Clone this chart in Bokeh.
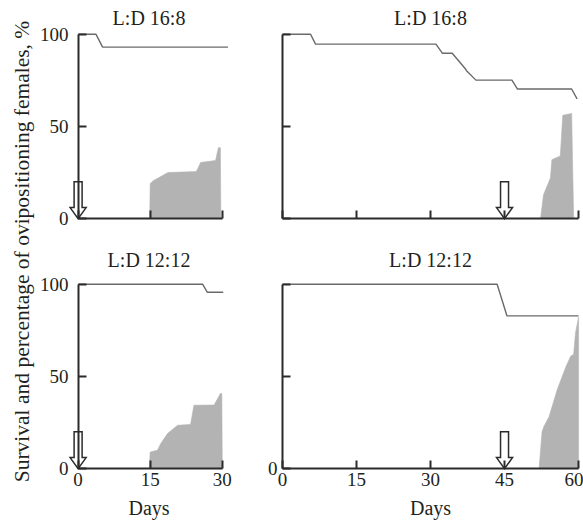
import math
from bokeh.plotting import figure
from bokeh.layouts import row, column
from bokeh.models import Range1d, FixedTicker, Label, LinearAxis
from bokeh.embed import file_html
from bokeh.resources import INLINE

# ---------------- data ----------------
y_label = "Survival and percentage of ovipositioning females, %"
x_label = "Days"
titles = ["L:D 16:8", "L:D 16:8", "L:D 12:12", "L:D 12:12"]

# top-left: L:D 16:8, 30 days
tl_surv_days = [0, 3.7, 5.1, 31.2]
tl_surv_pct = [100, 100, 93, 93]
tl_ovi_days = [14.9, 15.0, 15.6, 18.7, 24.6, 25.5, 28.6, 29.2, 29.6, 29.7]
tl_ovi_pct = [0, 19, 20.5, 25, 25.5, 30.5, 31.5, 38.5, 38.5, 0]
tl_arrow_day = 0

# top-right: L:D 16:8, 60 days
tr_surv_days = [0, 5.7, 6.7, 31.1, 32.4, 34.4, 37.1, 37.3, 39.2, 46.5, 47.6, 58.6, 59.7]
tr_surv_pct = [100, 100, 94.6, 94.6, 89.7, 89.7, 81.1, 80.2, 75.1, 75.1, 70.3, 70.3, 64.9]
tr_ovi_days = [52.3, 52.9, 54.3, 54.6, 56.3, 56.8, 58.6, 59.0]
tr_ovi_pct = [0, 13, 22, 32, 34, 56, 57, 0]
tr_arrow_day = 45

# bottom-left: L:D 12:12, 30 days
bl_surv_days = [0, 25.9, 26.9, 30.2]
bl_surv_pct = [100, 100, 95.6, 95.6]
bl_ovi_days = [14.8, 15.0, 16.5, 17.2, 18.6, 20.7, 23.4, 24.1, 28.3, 29.6, 29.9, 30.0]
bl_ovi_pct = [0, 9, 10, 13.6, 19, 23.5, 24, 34.4, 34.5, 40.7, 40.7, 0]
bl_arrow_day = 0

# bottom-right: L:D 12:12, 60 days
br_surv_days = [0, 43.5, 45.5, 60]
br_surv_pct = [100, 100, 82.8, 82.8]
br_ovi_days = [52.0, 52.6, 53.0, 54.0, 55.7, 57.4, 58.4, 59.0, 59.4, 60.0, 60.0]
br_ovi_pct = [0, 20, 23, 28, 43, 55, 61, 62, 74, 82, 0]
br_arrow_day = 45

x_ticks_30 = [0, 15, 30]
x_ticks_60 = [0, 15, 30, 45, 60]
y_ticks = [0, 50, 100]

# ---------------- style ----------------
FONT = "Liberation Serif"
TXT = "#231f20"
AXIS = "#2b2b2b"
LINE = "#6a6a6a"
FILL = "#b3b3b3"
FRAME_H = 190
Y_MIN, Y_MAX = -1, 102


def panel(width, height, left, right, top, bottom, xrng, xmax, surv_d, surv_p,
          ovi_d, ovi_p, arrow_day, title, title_standoff, xticks,
          show_xlabels, ylabel_keep, ylab_standoff):
    x0, x1 = xrng
    p = figure(width=width, height=height, x_range=Range1d(x0, x1),
               y_range=Range1d(Y_MIN, Y_MAX), toolbar_location=None,
               output_backend="svg", min_border_left=left,
               min_border_right=right, min_border_top=top,
               min_border_bottom=bottom)
    p.outline_line_color = None
    p.grid.visible = False
    p.background_fill_color = "white"
    p.border_fill_color = "white"

    p.title.text = title
    p.title.align = "center"
    p.title.text_font = FONT
    p.title.text_font_size = "20px"
    p.title.text_font_style = "normal"
    p.title.text_color = TXT
    p.title.standoff = title_standoff

    p.patch(ovi_d, ovi_p, fill_color=FILL, line_color=FILL, line_width=0.6)
    p.line(surv_d, surv_p, line_color=LINE, line_width=1.4)

    frame_w = width - left - right
    sx = frame_w / (x1 - x0)
    sh = 4.0 / sx
    hh = 8.0 / sx
    shaft_top = 20.0
    head_top = 6.0
    d = arrow_day
    ax = [d - sh, d + sh, d + sh, d + hh, d, d - hh, d - sh]
    ay = [shaft_top, shaft_top, head_top, head_top, 0, head_top, head_top]
    p.patch(ax, ay, fill_color="white", line_color=AXIS, line_width=1.5,
            line_join="miter")

    # label-only axes at the frame edges
    lx = p.xaxis[0]
    ly = p.yaxis[0]
    for a in (lx, ly):
        a.axis_line_color = None
        a.major_tick_line_color = None
        a.minor_tick_line_color = None
        a.major_tick_in = 0
        a.major_tick_out = 0
        a.major_label_text_font = FONT
        a.major_label_text_font_size = "19px"
        a.major_label_text_color = TXT
    if show_xlabels:
        lx.ticker = FixedTicker(ticks=xticks)
        lx.major_label_standoff = 2
        lx.axis_label = x_label
        lx.axis_label_text_font = FONT
        lx.axis_label_text_font_size = "20px"
        lx.axis_label_text_font_style = "normal"
        lx.axis_label_text_color = TXT
        lx.axis_label_standoff = 8
    else:
        lx.visible = False
    if ylabel_keep:
        ly.ticker = FixedTicker(ticks=ylabel_keep)
        ly.major_label_standoff = ylab_standoff
    else:
        ly.visible = False

    # axis lines and inward ticks placed at data zero
    xa = LinearAxis(fixed_location=0, bounds=(0, xmax),
                    ticker=FixedTicker(ticks=xticks),
                    major_label_overrides={t: "" for t in xticks})
    ya = LinearAxis(fixed_location=0, bounds=(0, 100),
                    ticker=FixedTicker(ticks=y_ticks),
                    major_label_overrides={t: "" for t in y_ticks})
    for a in (xa, ya):
        a.axis_line_width = 2
        a.axis_line_color = AXIS
        a.major_tick_line_width = 2
        a.major_tick_line_color = AXIS
        a.major_tick_in = 8
        a.major_tick_out = 0
        a.minor_tick_line_color = None
        a.major_label_text_alpha = 0
        a.major_label_text_font_size = "1px"
    p.add_layout(xa, "below")
    p.add_layout(ya, "left")
    return p


LAB_W = 36
LEFT_RNG = (-2, 31.5)
RIGHT_RNG = (-1, 61)
f1 = panel(216, 232, 32, 23, 30, 12, LEFT_RNG, 30, tl_surv_days, tl_surv_pct,
           tl_ovi_days, tl_ovi_pct, tl_arrow_day, titles[0], 4, x_ticks_30,
           False, [0, 50, 100], 0)
f2 = panel(331, 232, 25, 0, 30, 12, RIGHT_RNG, 60, tr_surv_days, tr_surv_pct,
           tr_ovi_days, tr_ovi_pct, tr_arrow_day, titles[1], 4, x_ticks_60,
           False, [], 0)
f3 = panel(216, 294, 32, 23, 48, 56, LEFT_RNG, 30, bl_surv_days, bl_surv_pct,
           bl_ovi_days, bl_ovi_pct, bl_arrow_day, titles[2], 20, x_ticks_30,
           True, [0, 50, 100], 0)
f4 = panel(331, 294, 25, 0, 48, 56, RIGHT_RNG, 60, br_surv_days, br_surv_pct,
           br_ovi_days, br_ovi_pct, br_arrow_day, titles[3], 20, x_ticks_60,
           True, [0], 0)

lab = figure(width=LAB_W, height=526, toolbar_location=None,
             output_backend="svg", x_axis_type=None, y_axis_type=None,
             min_border=0, x_range=Range1d(0, 1), y_range=Range1d(0, 1))
lab.outline_line_color = None
lab.grid.visible = False
lab.add_layout(Label(x=21, y=275, x_units="screen", y_units="screen",
                     text=y_label, angle=math.pi / 2, text_align="center",
                     text_baseline="middle", text_font=FONT,
                     text_font_size="21.5px", text_color=TXT))

layout = row(lab, column(row(f1, f2), row(f3, f4)))

open("out.html", "w").write(file_html(layout, INLINE))
